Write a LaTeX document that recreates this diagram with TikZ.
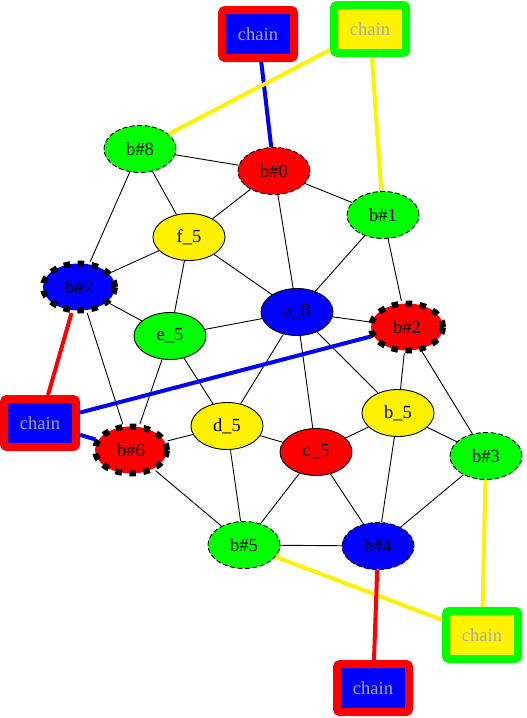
\documentclass[tikz,border=0pt]{standalone}
\usepackage{fontspec}
\setmainfont{Liberation Serif}
\usetikzlibrary{shapes.geometric}
\definecolor{chaintext}{RGB}{170,170,170}

\begin{document}
\begin{tikzpicture}[
      x=1pt, y=-1pt,
      font=\fontsize{18.5}{22}\selectfont,
      vert/.style={draw, ellipse, minimum width=72pt, minimum height=47pt, inner sep=0pt, line width=0.9pt},
      thindash/.style={dash pattern=on 5pt off 2.5pt},
      heavydash/.style={line width=6pt, dash pattern=on 6.5pt off 7.5pt},
      chain/.style={rectangle, rounded corners=3pt, line width=8pt, minimum width=72pt, minimum height=48pt, inner sep=0pt, text=chaintext},
      link/.style={line width=0.9pt},
      tie/.style={line width=4pt}
    ]
    \useasboundingbox[fill=white] (0,0) rectangle (527,718);
    \node[chain, fill=blue, draw=red] (chtop) at (258,34) {chain};
    \node[chain, fill=yellow, draw=green] (chright) at (370,29) {chain};
    \node[chain, fill=blue, draw=red] (chleft) at (40,423) {chain};
    \node[chain, fill=yellow, draw=green] (chlow) at (482,635) {chain};
    \node[chain, fill=blue, draw=red] (chbot) at (373,688) {chain};
    \node[vert, fill=green, thindash] (bb8) at (140,149) {b\#8};
    \node[vert, fill=red, thindash] (bb0) at (274,171) {b\#0};
    \node[vert, fill=green, thindash] (bb1) at (383,215) {b\#1};
    \node[vert, fill=yellow] (f5) at (189,237) {f\_5};
    \node[vert, fill=blue, heavydash] (bb7) at (79,287) {b\#7};
    \node[vert, fill=blue] (a8) at (297,312) {a\_8};
    \node[vert, fill=red, heavydash] (bb2) at (407,327) {b\#2};
    \node[vert, fill=green] (e5) at (170,336) {e\_5};
    \node[vert, fill=yellow] (d5) at (227,426) {d\_5};
    \node[vert, fill=yellow] (b5) at (398,413) {b\_5};
    \node[vert, fill=red, heavydash] (bb6) at (131,450) {b\#6};
    \node[vert, fill=red] (c5) at (316,452) {c\_5};
    \node[vert, fill=green, thindash] (bb3) at (486,456) {b\#3};
    \node[vert, fill=green, thindash] (bb5) at (244,545) {b\#5};
    \node[vert, fill=blue, thindash] (bb4) at (378,546) {b\#4};
    \foreach \u/\v in {bb8/bb0, bb8/f5, bb8/bb7, bb0/f5, bb0/bb1, bb0/a8, bb1/a8, bb1/bb2,
                       f5/bb7, f5/a8, f5/e5, bb7/e5, bb7/bb6, e5/a8, e5/bb6, e5/d5,
                       a8/bb2, a8/d5, a8/c5, a8/b5, bb2/b5, bb2/bb3, d5/bb6, d5/c5,
                       d5/bb5, c5/b5, c5/bb5, c5/bb4, b5/bb3, b5/bb4, bb3/bb4, bb5/bb4, bb6/bb5}
      \draw[link] (\u) -- (\v);
    \draw[tie, blue] (chtop) -- (bb0);
    \draw[tie, yellow] (chright) -- (bb8);
    \draw[tie, yellow] (chright) -- (bb1);
    \draw[tie, red] (chleft) -- (bb7);
    \draw[tie, blue] (chleft) -- (bb2);
    \draw[tie, blue] (chleft) -- (bb6);
    \draw[tie, yellow] (chlow) -- (bb3);
    \draw[tie, yellow] (chlow) -- (bb5);
    \draw[tie, red] (chbot) -- (bb4);
  \end{tikzpicture}
\end{document}
